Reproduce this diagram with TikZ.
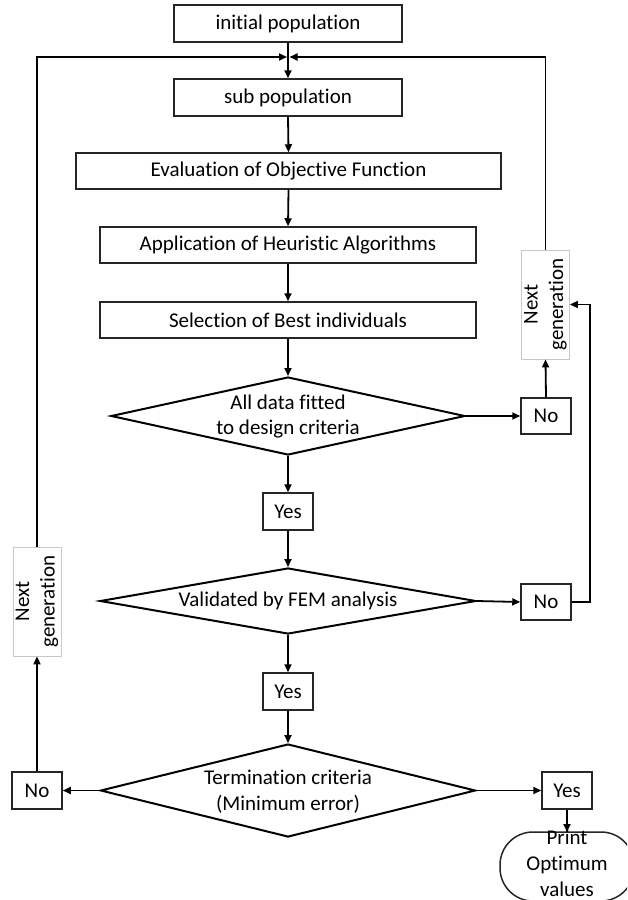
\documentclass[tikz,border=0pt]{standalone}
\usepackage{fontspec}
\setmainfont{Carlito}[Ligatures={NoCommon}]
\usetikzlibrary{arrows.meta,shapes.geometric}
\begin{document}
\begin{tikzpicture}[x=1pt,y=-1pt,
  every node/.style={font=\fontsize{21}{25.5}\selectfont, text=black},
  procbox/.style={draw=black!85, line width=1.5pt, fill=white, inner sep=0pt},
  decbox/.style={diamond, draw=black, line width=2pt, fill=white, inner sep=0pt},
  ngbox/.style={draw=black!22, line width=0.8pt, fill=white, inner sep=0pt, minimum width=48pt, minimum height=109pt},
  flow/.style={line width=1.8pt, draw=black, -{Triangle[length=8pt,width=7pt]}}]
\useasboundingbox (0,0) rectangle (627,900);
\clip (0,0) rectangle (627,900);
\fill[white] (0,0) rectangle (627,900);

% process boxes
\node[procbox, minimum width=228pt, minimum height=37pt] (ini) at (288,23.5) {initial population};
\node[procbox, minimum width=228pt, minimum height=37pt] (sub) at (288,97.5) {sub population};
\node[procbox, minimum width=425pt, minimum height=36pt] (eval) at (288.5,171) {Evaluation of Objective Function};
\node[procbox, minimum width=376pt, minimum height=36pt] (app) at (288,245) {Application of Heuristic Algorithms};
\node[procbox, minimum width=376pt, minimum height=36pt] (sel) at (288,320) {Selection of Best individuals};

% decisions
\node[decbox, minimum width=354pt, minimum height=78pt] (d1) at (288,416) {};
\node[align=center] (d1t) at (288,416.5) {All data fitted\\to design criteria};
\node[decbox, minimum width=376pt, minimum height=66pt] (d2) at (288,601) {};
\node (d2t) at (288,601) {Validated by FEM analysis};
\node[decbox, minimum width=375pt, minimum height=93pt] (d3) at (288,790.5) {};
\node[align=center] (d3t) at (288,791.5) {Termination criteria\\(Minimum error)};

% yes / no boxes
\node[procbox, minimum width=50pt, minimum height=36pt] (no1) at (546,416) {No};
\node[procbox, minimum width=50pt, minimum height=37pt] (yes1) at (288,511.5) {Yes};
\node[procbox, minimum width=50pt, minimum height=36pt] (no2) at (546,602) {No};
\node[procbox, minimum width=50pt, minimum height=37pt] (yes2) at (288,691.5) {Yes};
\node[procbox, minimum width=50pt, minimum height=37pt] (no3) at (37,790.5) {No};
\node[procbox, minimum width=50pt, minimum height=37pt] (yes3) at (567,790.5) {Yes};

% next generation boxes
\node[ngbox] (ngR) at (545.5,304.5) {};
\node[rotate=90, align=center] (ngRt) at (ngR) {Next\\generation};
\node[ngbox] (ngL) at (37,601.5) {};
\node[rotate=90, align=center] (ngLt) at (ngL) {Next\\generation};

% terminal
\draw[line width=1.5pt, draw=black!85, fill=white, rounded corners=33pt] (500,832) rectangle (634,901);
\coordinate (term) at (567,832);
\node[align=center, font=\fontsize{21}{26}\selectfont] (termt) at (567,863) {Print\\Optimum\\values};

% junction
\coordinate (jn) at (288,57);

% connectors
\draw[flow] (ini.south) -- (sub.north);
\draw[flow] (ngL.north) |- ([xshift=-1pt]jn);
\draw[flow] (ngR.north) |- ([xshift=1.5pt]jn);
\draw[flow] (sub.south) -- (eval.north);
\draw[flow] (eval.south) -- (app.north);
\draw[flow] (app.south) -- (sel.north);
\draw[flow] (sel.south) -- (d1.north);
\draw[flow] (d1.east) -- (no1.west);
\draw[flow] (no1.north) -- (ngR.south);
\draw[flow] (d1.south) -- (yes1.north);
\draw[flow] (yes1.south) -- (d2.north);
\draw[flow] (d2.east) -- (no2.west);
\draw[flow] (no2.east) -- ++(18,0) |- (ngR.east);
\draw[flow] (d2.south) -- (yes2.north);
\draw[flow] (yes2.south) -- (d3.north);
\draw[flow] (d3.west) -- (no3.east);
\draw[flow] (no3.north) -- (ngL.south);
\draw[flow] (d3.east) -- (yes3.west);
\draw[flow] (yes3.south) -- (term);
\end{tikzpicture}
\end{document}
